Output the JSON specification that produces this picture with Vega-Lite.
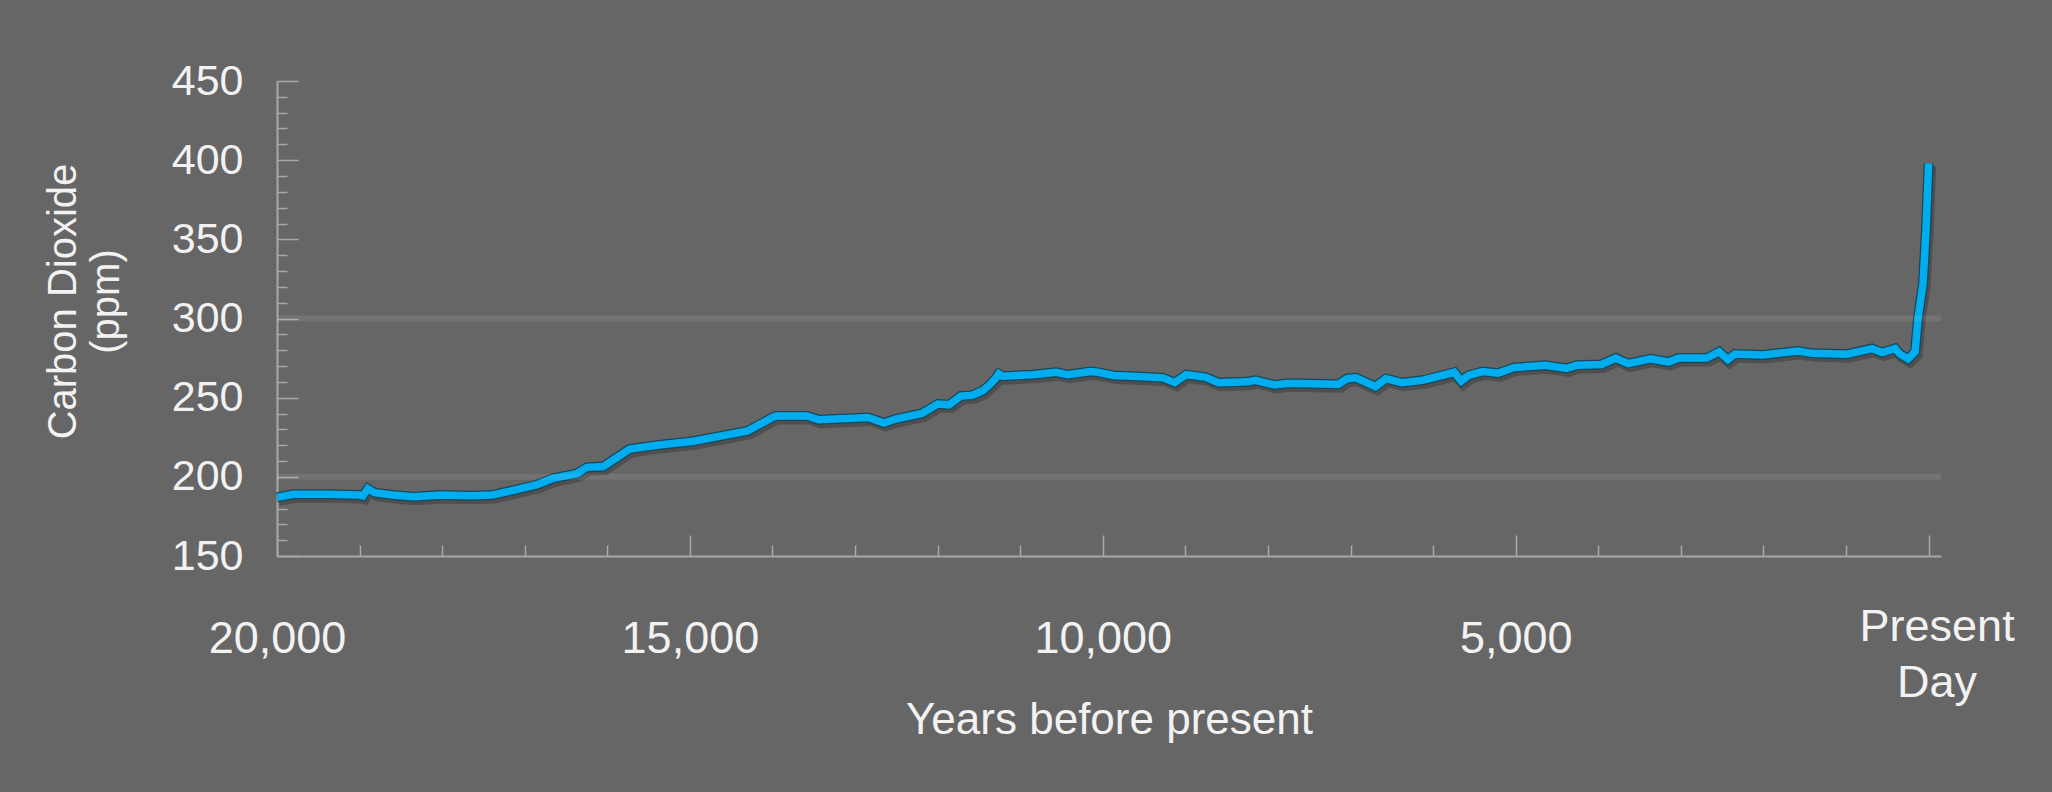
{
  "$schema": "https://vega.github.io/schema/vega-lite/v6.json",
  "width": 1664,
  "height": 475,
  "autosize": {"type": "none"},
  "padding": {"left": 277, "top": 81, "right": 111, "bottom": 236},
  "background": "#666666",
  "config": {
    "view": {"stroke": null},
    "axis": {"grid": false, "labelFont": "Liberation Sans", "titleFont": "Liberation Sans", "titleFontWeight": "normal", "labelColor": "#f2f2f2", "titleColor": "#f2f2f2", "domainColor": "#a8a8a8", "domainWidth": 2, "tickColor": "#a8a8a8", "tickWidth": 1.5, "labelFlush": false, "labelOverlap": false}
  },
  "datasets": {
    "co2": [
      {"year": 20000, "ppm": 187}, {"year": 19800, "ppm": 189}, {"year": 19400, "ppm": 189}, {"year": 19000, "ppm": 188.5},
      {"year": 18960, "ppm": 188}, {"year": 18900, "ppm": 192.5}, {"year": 18820, "ppm": 190}, {"year": 18600, "ppm": 188.5},
      {"year": 18350, "ppm": 187.5}, {"year": 18000, "ppm": 188.5}, {"year": 17650, "ppm": 188}, {"year": 17400, "ppm": 188.5},
      {"year": 17180, "ppm": 191}, {"year": 16850, "ppm": 195}, {"year": 16660, "ppm": 199}, {"year": 16370, "ppm": 202},
      {"year": 16250, "ppm": 206}, {"year": 16050, "ppm": 206.5}, {"year": 15730, "ppm": 217.5}, {"year": 15400, "ppm": 220},
      {"year": 14960, "ppm": 222.5}, {"year": 14300, "ppm": 229}, {"year": 14000, "ppm": 237.5}, {"year": 13950, "ppm": 238.5},
      {"year": 13580, "ppm": 238.5}, {"year": 13440, "ppm": 236}, {"year": 12840, "ppm": 237.5}, {"year": 12650, "ppm": 234},
      {"year": 12510, "ppm": 236.5}, {"year": 12190, "ppm": 240}, {"year": 12000, "ppm": 246}, {"year": 11860, "ppm": 245.5},
      {"year": 11720, "ppm": 251}, {"year": 11580, "ppm": 251.5}, {"year": 11450, "ppm": 254.5}, {"year": 11354, "ppm": 259},
      {"year": 11300, "ppm": 262}, {"year": 11260, "ppm": 265}, {"year": 11213, "ppm": 263.5}, {"year": 10845, "ppm": 264.5},
      {"year": 10567, "ppm": 266}, {"year": 10426, "ppm": 264.5}, {"year": 10148, "ppm": 266.5}, {"year": 10058, "ppm": 266},
      {"year": 9870, "ppm": 264}, {"year": 9640, "ppm": 263.5}, {"year": 9270, "ppm": 262.5}, {"year": 9130, "ppm": 259.5},
      {"year": 8990, "ppm": 264.5}, {"year": 8760, "ppm": 263}, {"year": 8600, "ppm": 259.5}, {"year": 8250, "ppm": 260},
      {"year": 8150, "ppm": 261}, {"year": 7920, "ppm": 258}, {"year": 7780, "ppm": 259}, {"year": 7610, "ppm": 259},
      {"year": 7180, "ppm": 258.5}, {"year": 7145, "ppm": 258.5}, {"year": 7043, "ppm": 262}, {"year": 6934, "ppm": 262.5},
      {"year": 6700, "ppm": 257}, {"year": 6571, "ppm": 262}, {"year": 6381, "ppm": 259.5}, {"year": 6125, "ppm": 261},
      {"year": 5743, "ppm": 266}, {"year": 5659, "ppm": 260.5}, {"year": 5573, "ppm": 264}, {"year": 5403, "ppm": 266.5},
      {"year": 5212, "ppm": 265.5}, {"year": 5021, "ppm": 269}, {"year": 4639, "ppm": 270.5}, {"year": 4384, "ppm": 268.5},
      {"year": 4258, "ppm": 270.5}, {"year": 3960, "ppm": 271}, {"year": 3789, "ppm": 275}, {"year": 3640, "ppm": 271.5},
      {"year": 3366, "ppm": 274.5}, {"year": 3152, "ppm": 272.5}, {"year": 3025, "ppm": 275}, {"year": 2685, "ppm": 275},
      {"year": 2537, "ppm": 279}, {"year": 2431, "ppm": 274}, {"year": 2346, "ppm": 277.5}, {"year": 2006, "ppm": 277},
      {"year": 1582, "ppm": 279.5}, {"year": 1412, "ppm": 278}, {"year": 989, "ppm": 277.5}, {"year": 685, "ppm": 281},
      {"year": 564, "ppm": 278.5}, {"year": 406, "ppm": 281}, {"year": 346, "ppm": 277.5}, {"year": 249, "ppm": 274.5},
      {"year": 164, "ppm": 279}, {"year": 128, "ppm": 300}, {"year": 68, "ppm": 322}, {"year": 31, "ppm": 356},
      {"year": 0, "ppm": 398}
    ],
    "grid": [{"ppm": 200}, {"ppm": 300}]
  },
  "encoding": {
    "y": {
      "field": "ppm", "type": "quantitative",
      "scale": {"domain": [150, 450], "nice": false, "zero": false},
      "axis": {
        "values": [150,160,170,180,190,200,210,220,230,240,250,260,270,280,290,300,310,320,330,340,350,360,370,380,390,400,410,420,430,440,450],
        "title": ["Carbon Dioxide", "(ppm)"],
        "titleFontSize": 40, "titleAngle": 270, "titleX": -202, "titleY": 220,
        "titleAlign": "center", "titleBaseline": "alphabetic", "titleLineHeight": 43,
        "labelExpr": "datum.value % 50 === 0 ? datum.label : ''",
        "labelFontSize": 43, "labelPadding": 55,
        "tickSize": {"condition": {"test": "datum.value % 50 === 0", "value": -21}, "value": -10}
      }
    }
  },
  "layer": [
    {
      "data": {"name": "co2"},
      "encoding": {
        "x": {
          "field": "year", "type": "quantitative",
          "scale": {"domain": [-150, 20000], "reverse": true, "nice": false, "zero": false},
          "axis": {
            "values": [0,1000,2000,3000,4000,5000,6000,7000,8000,9000,10000,11000,12000,13000,14000,15000,16000,17000,18000,19000,20000],
            "title": "Years before present",
            "titleFontSize": 44, "titleY": 177, "titleBaseline": "alphabetic",
            "labelExpr": "datum.value === 0 ? ['Present', 'Day'] : (datum.value % 5000 === 0 ? format(datum.value, ',') : '')",
            "labelFontSize": 45, "labelLineHeight": 56,
            "labelPadding": {"condition": {"test": "datum.value === 0", "value": 69}, "value": 81},
            "labelOffset": {"condition": {"test": "datum.value === 0", "value": 8}, "value": 0},
            "tickSize": {"condition": {"test": "datum.value % 5000 === 0", "value": -21}, "value": -11}
          }
        }
      },
      "layer": [
        {"mark": {"type": "line", "color": "#000000", "opacity": 0.22, "strokeWidth": 11, "xOffset": 2, "yOffset": 3}},
        {"mark": {"type": "line", "color": "#17475a", "strokeWidth": 10}},
        {"mark": {"type": "line", "color": "#00adef", "strokeWidth": 7.5}}
      ]
    },
    {
      "data": {"name": "grid"},
      "mark": {"type": "rule", "color": "#ffffff", "opacity": 0.085, "strokeWidth": 6}
    }
  ]
}
